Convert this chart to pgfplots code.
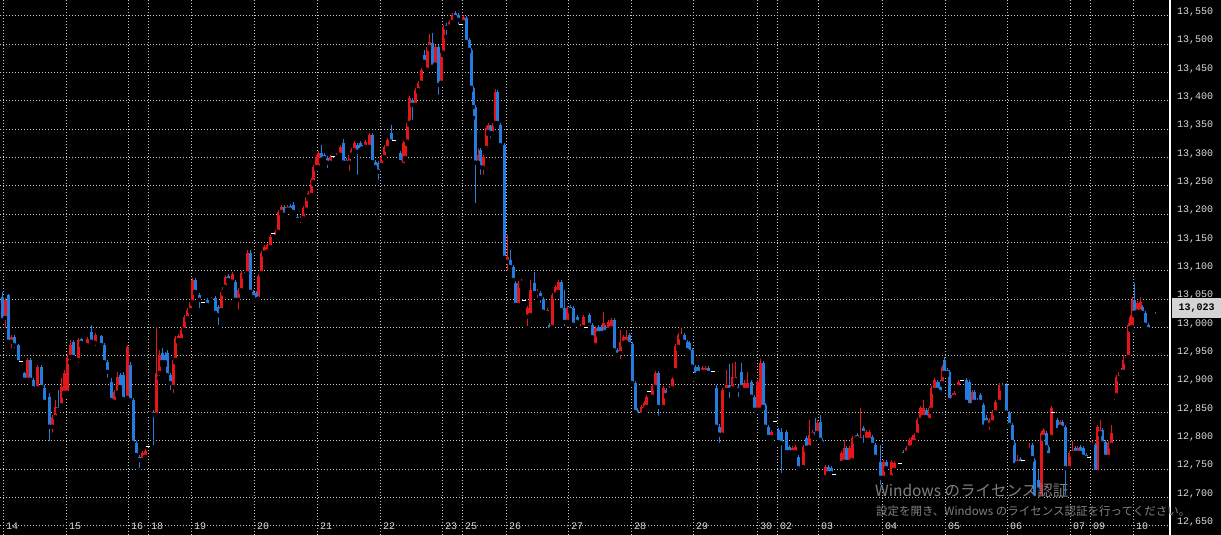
\documentclass[border=0pt]{standalone}
\usepackage{pgfplots}
\usepackage{pgfplotstable}
\pgfplotsset{compat=1.18}
\usepackage{fontspec}
\setmainfont{Liberation Sans}
\newfontfamily\monofont{Liberation Mono}
\newfontfamily\jpfont{Noto Sans CJK JP}
\definecolor{upred}{RGB}{228,22,26}
\definecolor{downblue}{RGB}{36,124,222}
\definecolor{gridc}{RGB}{200,200,200}
\definecolor{boxgray}{RGB}{212,212,212}
\definecolor{labc}{RGB}{220,220,220}
\definecolor{wm}{RGB}{128,128,128}
\pgfplotstableread{
x O H L C
5 13017 13052 12996 13049
11 12975 12987 12960 12983
27 12908 12946 12904 12943
37 12893 12934 12890 12931
52 12825 12846 12811 12842
55 12842 12872 12841 12860
61 12863 12911 12860 12895
64 12885 12925 12879 12920
67 12885 12952 12881 12948
70 12948 12978 12939 12969
78 12943 12982 12934 12978
87 12969 12983 12966 12980
95 12973 12990 12964 12987
114 12869 12890 12863 12886
117 12885 12922 12881 12913
127 12876 12969 12872 12966
142 12766 12782 12763 12779
145 12772 12786 12770 12782
150 12848 12852 12846 12851
156 12846 13001 12842 12920
159 12920 12960 12911 12952
173 12895 12946 12881 12943
175 12943 12985 12939 12982
178 12978 12988 12975 12985
181 12978 12999 12975 12996
184 12996 13022 12992 13019
187 13017 13035 13013 13031
190 13031 13049 13028 13045
192 13045 13088 13042 13084
211 13049 13054 13045 13052
221 13031 13066 13028 13063
223 13063 13075 13060 13072
225 13072 13093 13069 13089
232 13081 13098 13075 13095
238 13049 13070 13028 13066
241 13066 13100 13063 13096
247 13096 13137 13093 13132
258 13051 13095 13047 13091
261 13096 13135 13093 13132
264 13132 13146 13128 13142
267 13134 13149 13130 13146
270 13142 13163 13139 13160
275 13160 13172 13156 13169
278 13169 13208 13165 13204
281 13204 13216 13201 13213
287 13208 13216 13204 13213
300 13190 13197 13181 13193
303 13193 13215 13190 13211
306 13208 13234 13204 13231
308 13231 13241 13227 13238
311 13234 13264 13231 13261
313 13257 13287 13254 13283
316 13283 13305 13280 13301
318 13283 13311 13280 13308
330 13291 13305 13287 13301
336 13301 13308 13297 13305
340 13305 13322 13301 13319
349 13291 13308 13273 13305
351 13305 13317 13301 13313
354 13313 13329 13310 13326
365 13319 13331 13315 13328
369 13319 13343 13315 13340
381 13287 13305 13283 13301
384 13301 13322 13298 13319
387 13317 13334 13313 13331
403 13287 13329 13283 13326
405 13299 13331 13296 13328
407 13328 13364 13324 13361
409 13361 13409 13358 13405
415 13393 13423 13389 13419
418 13419 13435 13416 13432
421 13432 13458 13428 13455
427 13455 13499 13451 13495
429 13495 13518 13492 13504
435 13464 13499 13460 13495
441 13432 13488 13428 13485
443 13485 13534 13481 13531
449 13531 13543 13527 13539
452 13539 13555 13536 13552
463 13539 13552 13536 13548
478 13291 13317 13287 13305
483 13282 13305 13266 13301
486 13317 13355 13313 13352
488 13345 13361 13342 13358
492 13343 13361 13340 13358
495 13361 13421 13358 13416
507 13116 13163 13096 13125
518 13040 13082 13036 13079
521 13079 13086 13073 13082
527 13019 13038 12999 13035
530 13022 13084 13019 13066
537 13061 13068 13049 13065
547 13026 13035 13022 13031
552 13001 13061 12997 13058
555 13058 13075 13054 13072
558 13063 13084 13060 13081
567 13010 13038 13006 13035
580 12999 13006 12996 13003
583 13001 13022 12997 13019
595 12969 13003 12966 12999
603 12990 13028 12987 13008
608 12996 13013 12992 13010
611 12999 13017 12996 13013
620 12955 12996 12941 12975
623 12973 12987 12969 12983
626 12975 12996 12971 12983
641 12846 12864 12842 12860
644 12855 12871 12851 12867
646 12860 12881 12857 12878
652 12878 12900 12874 12897
655 12895 12924 12892 12920
663 12860 12897 12857 12893
669 12890 12897 12886 12893
672 12893 12913 12890 12909
675 12925 12971 12922 12967
678 12966 12990 12962 12987
681 12985 13001 12982 12988
702 12922 12932 12918 12929
705 12922 12932 12918 12929
722 12811 12893 12807 12890
726 12890 12925 12886 12899
732 12893 12938 12890 12913
735 12908 12939 12904 12913
744 12890 12908 12886 12902
747 12890 12922 12886 12902
757 12855 12908 12851 12904
760 12855 12945 12851 12938
771 12807 12819 12804 12816
792 12780 12791 12777 12788
795 12780 12793 12777 12789
803 12754 12793 12750 12789
809 12789 12837 12786 12811
812 12811 12819 12807 12816
817 12814 12837 12811 12832
825 12736 12757 12731 12754
841 12761 12782 12757 12779
844 12763 12802 12759 12788
849 12763 12791 12759 12788
852 12766 12809 12763 12805
855 12802 12811 12798 12807
860 12802 12858 12798 12807
866 12802 12819 12798 12816
869 12802 12819 12798 12816
883 12735 12766 12731 12763
891 12736 12766 12733 12763
894 12749 12764 12745 12761
906 12779 12791 12775 12788
909 12788 12805 12784 12802
912 12789 12811 12786 12807
914 12798 12814 12795 12811
917 12811 12841 12807 12837
920 12837 12862 12833 12858
923 12842 12872 12839 12858
929 12837 12862 12833 12858
931 12855 12897 12851 12893
934 12890 12911 12886 12908
942 12902 12934 12899 12931
952 12872 12885 12869 12881
954 12878 12888 12874 12885
958 12895 12908 12892 12904
972 12863 12890 12860 12886
989 12828 12841 12816 12837
992 12833 12855 12829 12851
995 12851 12872 12848 12869
999 12869 12902 12865 12899
1017 12761 12775 12757 12766
1029 12784 12796 12780 12788
1041 12701 12817 12698 12814
1043 12807 12823 12804 12819
1051 12807 12862 12804 12858
1060 12825 12837 12821 12833
1069 12752 12782 12749 12779
1072 12779 12800 12775 12784
1077 12779 12791 12775 12788
1092 12793 12800 12789 12796
1097 12745 12828 12742 12825
1100 12814 12837 12811 12819
1108 12772 12800 12768 12796
1111 12793 12828 12789 12814
1114 12878 12885 12869 12881
1116 12881 12916 12878 12913
1119 12911 12925 12908 12922
1123 12922 12952 12918 12943
1126 12943 12952 12939 12948
1128 12948 13008 12945 13005
1130 12999 13022 12996 13019
1132 13001 13054 12997 13049
1137 13028 13047 13024 13043
1140 13028 13054 13024 13045
}\upcandles
\pgfplotstableread{
x O H L C
2 13054 13063 13010 13013
8 13058 13060 12969 12975
14 12983 12987 12960 12969
18 12969 12971 12938 12939
24 12920 12922 12904 12908
30 12943 12946 12902 12908
33 12908 12911 12890 12893
41 12931 12934 12893 12895
44 12893 12899 12863 12869
49 12878 12885 12796 12825
58 12860 12890 12851 12855
73 12975 12978 12943 12948
81 12980 12982 12969 12973
91 12992 13005 12971 12975
101 12985 12987 12966 12969
104 12969 12973 12936 12939
107 12939 12943 12908 12922
111 12904 12911 12869 12872
120 12916 12920 12890 12895
123 12916 12922 12869 12874
130 12934 12939 12869 12872
133 12872 12876 12793 12796
136 12796 12800 12773 12775
139 12772 12775 12749 12766
153 12851 12855 12789 12846
162 12955 12964 12934 12939
165 12952 12957 12934 12939
167 12955 12960 12911 12916
170 12916 12920 12886 12902
195 13084 13088 13060 13063
199 13058 13061 13031 13049
207 13049 13052 13036 13040
215 13052 13056 13022 13026
218 13036 13040 13001 13022
228 13091 13095 13081 13084
235 13081 13084 13045 13049
244 13096 13098 13089 13093
250 13132 13137 13060 13063
253 13063 13066 13051 13054
256 13061 13065 13045 13049
284 13213 13216 13195 13199
290 13215 13218 13204 13208
293 13216 13222 13201 13204
297 13195 13199 13186 13190
321 13308 13322 13292 13296
324 13305 13308 13296 13299
327 13299 13303 13278 13291
343 13326 13333 13287 13291
346 13296 13299 13287 13291
357 13322 13326 13266 13310
360 13326 13329 13310 13313
362 13319 13322 13313 13316
372 13340 13343 13289 13292
375 13292 13296 13280 13283
378 13291 13294 13257 13275
391 13343 13358 13324 13328
400 13308 13311 13289 13292
412 13402 13405 13363 13393
424 13481 13490 13466 13469
432 13502 13520 13457 13460
438 13495 13499 13407 13428
446 13534 13538 13513 13529
455 13555 13559 13545 13548
458 13552 13555 13531 13543
466 13546 13550 13501 13504
469 13508 13511 13487 13490
471 13490 13493 13419 13423
473 13423 13426 13370 13389
475 13389 13393 13216 13291
480 13313 13317 13266 13283
490 13355 13358 13331 13343
497 13416 13419 13358 13361
500 13358 13361 13319 13322
504 13322 13326 13116 13123
510 13119 13137 13102 13107
513 13107 13111 13081 13084
515 13079 13082 13036 13040
534 13079 13098 13058 13061
540 13061 13065 13040 13052
543 13051 13054 13024 13028
549 13005 13008 12992 12996
561 13081 13084 13028 13031
564 13035 13066 12999 13010
570 13036 13040 13028 13031
573 13035 13038 13001 13005
577 13019 13022 13006 13010
589 13022 13026 13001 13005
592 13005 13008 12980 12983
598 13001 13005 12987 12990
601 13001 13005 12987 12990
605 13001 13005 12989 12992
614 13013 13017 12957 12960
617 12960 12964 12948 12952
629 12987 12990 12968 12971
632 12971 12975 12899 12902
635 12902 12906 12848 12851
637 12855 12858 12842 12846
658 12920 12924 12841 12860
666 12890 12893 12878 12881
684 12987 12990 12971 12975
687 12975 12978 12957 12960
689 12973 12976 12953 12957
692 12960 12964 12927 12931
695 12931 12934 12908 12916
698 12931 12934 12916 12920
708 12929 12932 12917 12920
716 12893 12899 12821 12825
719 12825 12829 12793 12811
729 12899 12936 12872 12890
738 12895 12899 12874 12890
741 12922 12938 12890 12895
751 12904 12908 12872 12878
754 12878 12881 12846 12855
763 12938 12941 12857 12860
765 12863 12867 12821 12825
768 12825 12828 12804 12807
778 12819 12823 12793 12798
781 12816 12823 12740 12796
786 12816 12819 12775 12780
789 12789 12793 12777 12780
798 12772 12775 12749 12752
806 12805 12809 12784 12788
815 12816 12841 12804 12807
820 12833 12846 12798 12802
822 12802 12805 12793 12796
828 12754 12757 12740 12743
831 12752 12756 12740 12743
846 12788 12791 12759 12763
857 12811 12814 12802 12805
863 12823 12826 12793 12814
872 12807 12811 12789 12793
875 12793 12796 12768 12772
880 12763 12793 12719 12735
886 12763 12766 12749 12752
903 12780 12784 12773 12775
926 12855 12858 12839 12842
937 12904 12908 12886 12890
940 12904 12908 12883 12886
944 12943 12948 12916 12920
947 12925 12929 12916 12920
949 12922 12925 12869 12872
966 12908 12911 12865 12869
969 12904 12908 12860 12863
974 12886 12890 12865 12869
977 12872 12876 12865 12869
980 12881 12885 12865 12869
983 12863 12867 12821 12825
986 12841 12845 12829 12833
1002 12899 12902 12892 12895
1006 12899 12902 12846 12850
1009 12850 12853 12825 12828
1012 12828 12832 12795 12798
1014 12796 12800 12754 12757
1020 12768 12772 12757 12761
1032 12793 12796 12766 12770
1034 12766 12770 12698 12701
1038 12731 12749 12710 12714
1046 12814 12817 12786 12789
1048 12789 12793 12772 12775
1057 12837 12841 12816 12819
1062 12833 12837 12819 12823
1065 12825 12828 12701 12752
1075 12788 12791 12775 12779
1080 12789 12793 12775 12779
1083 12788 12791 12768 12772
1086 12775 12779 12766 12770
1095 12793 12796 12742 12745
1102 12819 12823 12793 12796
1105 12798 12802 12768 12772
1121 12925 12929 12918 12922
1134 13049 13079 13022 13026
1142 13036 13040 13022 13026
1145 13026 13029 13001 13005
1148 13005 13008 12990 12997
1155 13024 13028 13017 13021
}\downcandles
\pgfplotstableread{
x P
21 12940
148 12791
203 13045
273 13166
333 13301
394 13330
461 13535
524 13047
586 13001
649 12888
713 12922
775 12835
834 12741
900 12760
962 12906
1023 12765
1053 12851
1089 12770
}\dojis
\begin{document}
\begin{tikzpicture}
\fill[black] (0,0) rectangle (1221pt,535pt);
\begin{axis}[
  at={(0pt,0pt)}, anchor=south west,
  scale only axis, width=1170pt, height=535pt,
  xmin=0, xmax=1170, ymin=12634, ymax=13578,
  axis line style={draw=none},
  major tick length=0pt,
  grid=major,
  major grid style={draw=gridc, line width=0.9pt, dash pattern=on 1pt off 2pt},
  xtick={3,66,128,148,191,254,317,380,442,462,506,568,631,693,757,777,818,882,945,1007,1070,1090,1133},
  xticklabels={14,15,16,18,19,20,21,22,23,25,26,27,28,29,30,02,03,04,05,06,07,09,10},
  xticklabel style={anchor=base west, inner sep=0pt, xshift=3pt, yshift=5pt, text=labc, font=\monofont\fontsize{10}{10}\selectfont},
  ytick={12650,12700,...,13550},
  scaled y ticks=false,
  yticklabel pos=right,
  yticklabel style={anchor=base west, inner sep=0pt, xshift=7pt, yshift=1.5pt, text=labc, font=\monofont\fontsize{10}{10}\selectfont,
    /pgf/number format/.cd, fixed, precision=0, 1000 sep={,}, assume math mode=true},
  clip=true,
]
% wicks
\addplot[only marks, mark=none, error bars/.cd, y dir=plus, y explicit, error mark=none,
  error bar style={draw=upred, line width=1pt, line cap=butt}]
  table[x=x, y=L, y error plus expr=\thisrow{H}-\thisrow{L}] {\upcandles};
\addplot[only marks, mark=none, error bars/.cd, y dir=plus, y explicit, error mark=none,
  error bar style={draw=downblue, line width=1pt, line cap=butt}]
  table[x=x, y=L, y error plus expr=\thisrow{H}-\thisrow{L}] {\downcandles};
% bodies
\addplot[only marks, mark=none, error bars/.cd, y dir=plus, y explicit, error mark=none,
  error bar style={draw=upred, line width=3pt, line cap=butt}]
  table[x=x, y=O, y error plus expr=\thisrow{C}-\thisrow{O}] {\upcandles};
\addplot[only marks, mark=none, error bars/.cd, y dir=plus, y explicit, error mark=none,
  error bar style={draw=downblue, line width=3pt, line cap=butt}]
  table[x=x, y=C, y error plus expr=\thisrow{O}-\thisrow{C}] {\downcandles};
% doji marks
\addplot[only marks, mark=-, mark size=2pt, mark options={draw=white, line width=1pt}]
  table[x=x, y=P] {\dojis};
\end{axis}
\draw[white, line width=1.2pt] (1170pt,0pt) -- (1170pt,535pt);
\node[anchor=north west, fill=boxgray, text=black, inner sep=0pt, minimum width=49pt, minimum height=20pt,
  font=\monofont\bfseries\fontsize{10}{10}\selectfont] at (1172pt,237pt) {13,023};
\node[anchor=base west, inner sep=0pt, text=wm, font=\jpfont\fontsize{15.5}{15.5}\selectfont] at (875pt,38pt) {Windows のライセンス認証};
\node[anchor=base west, inner sep=0pt, text=wm, font=\jpfont\fontsize{11.5}{11.5}\selectfont] at (876pt,19pt) {設定を開き、Windows のライセンス認証を行ってください。};
\pgfresetboundingbox
\path[use as bounding box] (0pt,0pt) rectangle (1221pt,535pt);
\end{tikzpicture}
\end{document}
